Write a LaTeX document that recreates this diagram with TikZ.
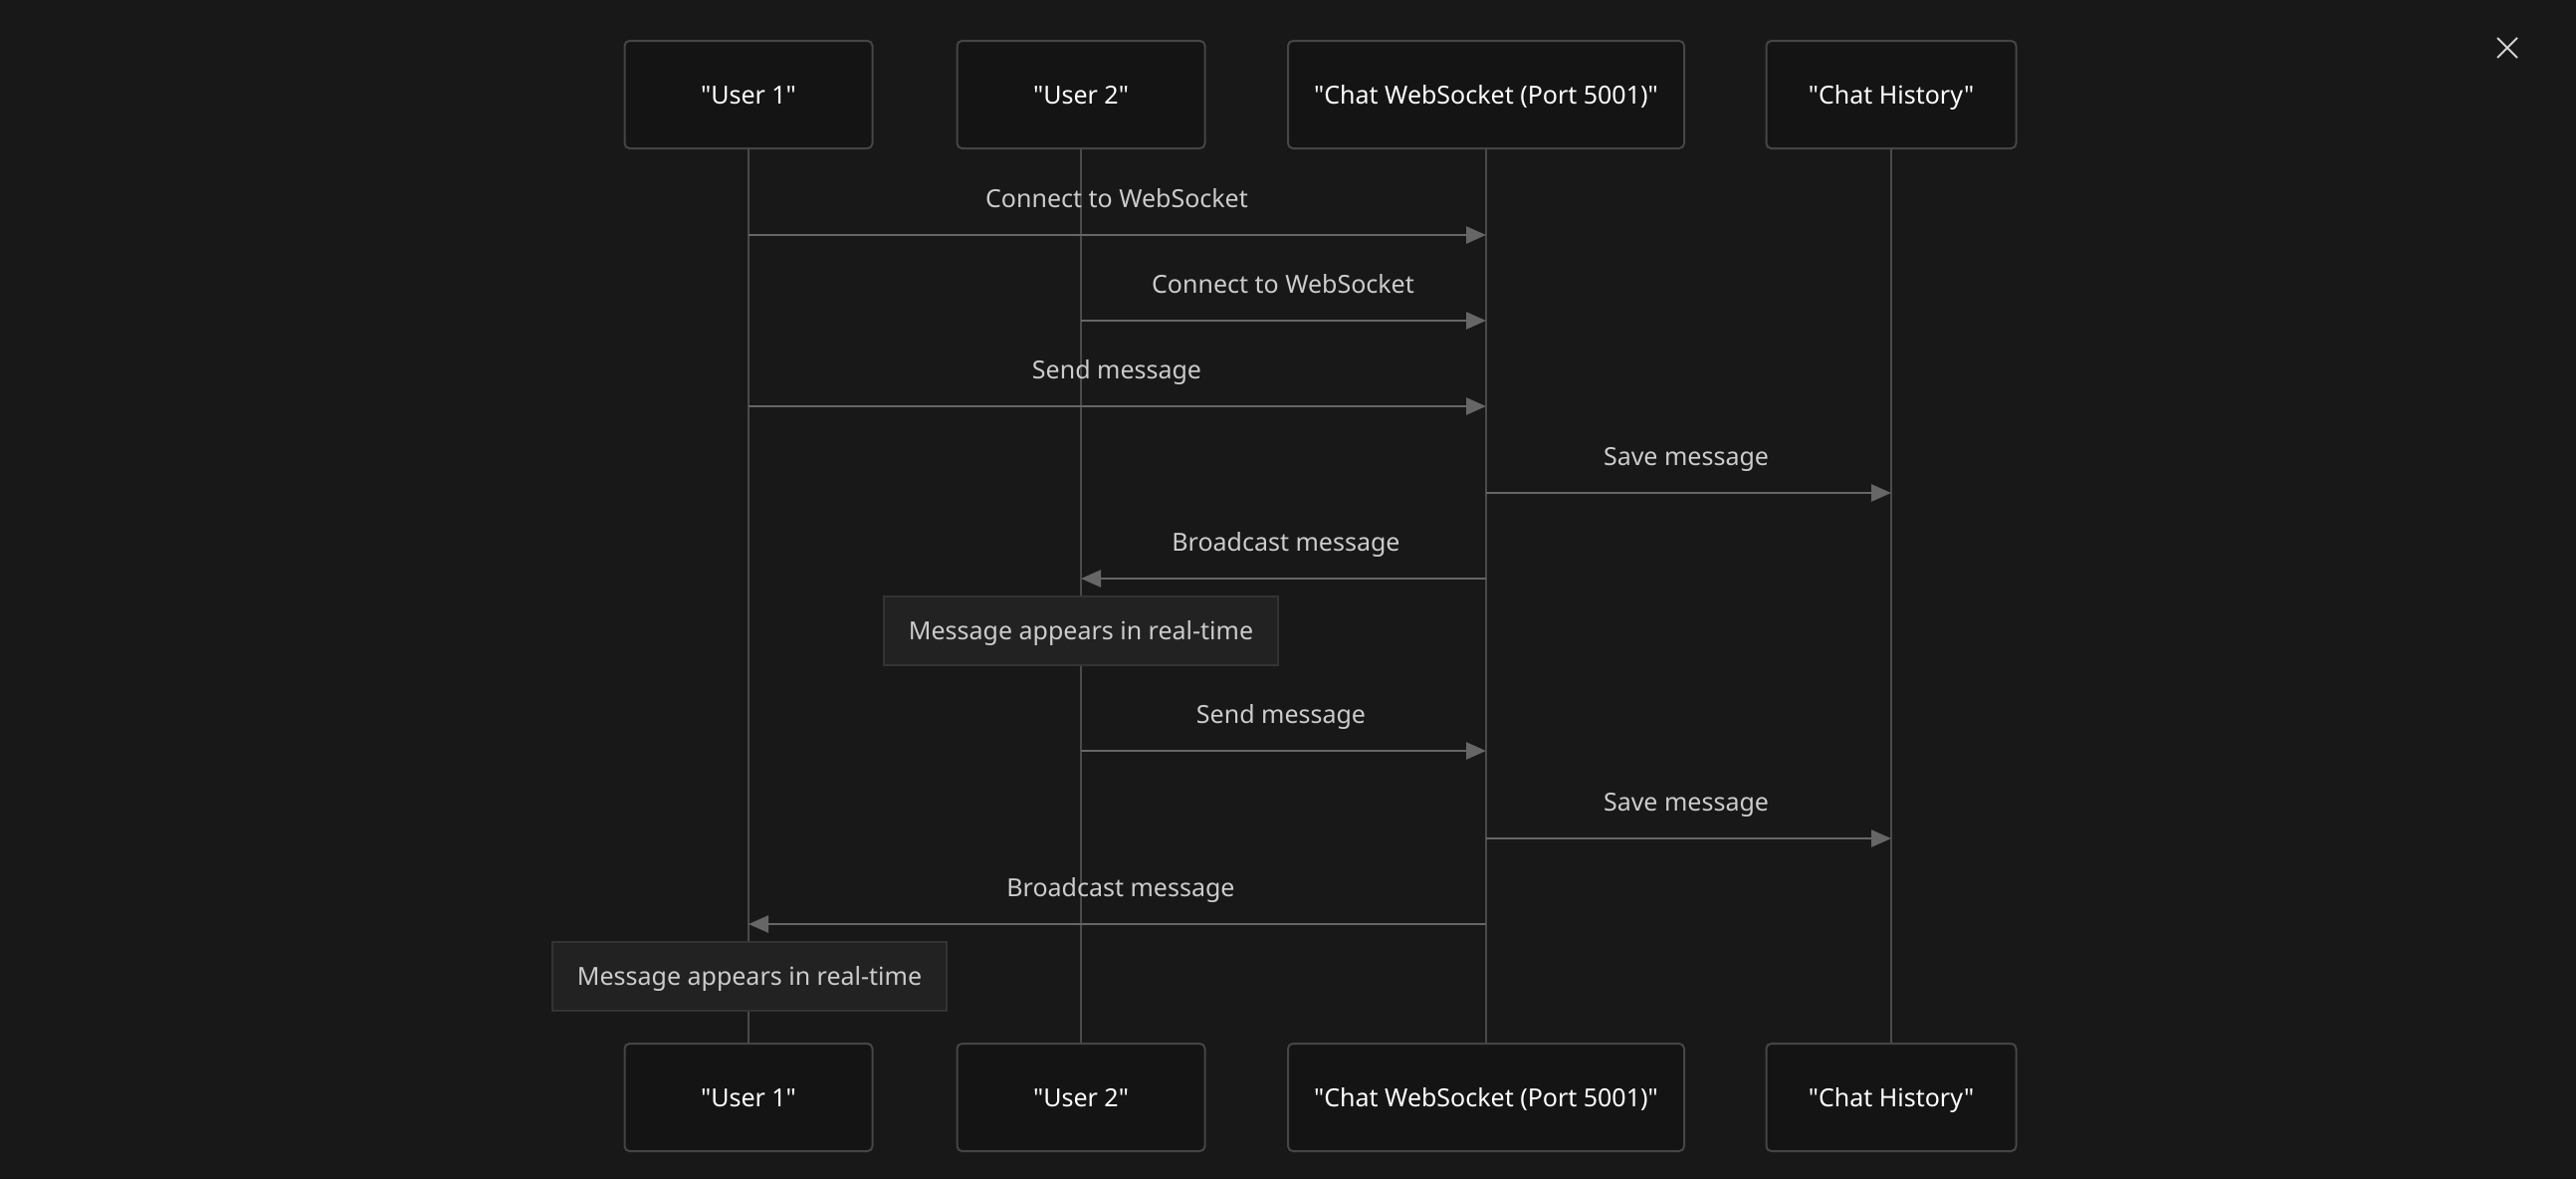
\documentclass[tikz,border=0pt]{standalone}
\usepackage{fontspec}
\newfontfamily\uifont{Noto Sans}
\usetikzlibrary{arrows.meta}
\definecolor{bg}{HTML}{181818}
\definecolor{boxfill}{HTML}{141414}
\definecolor{boxline}{HTML}{454545}
\definecolor{notefill}{HTML}{222222}
\definecolor{noteline}{HTML}{333333}
\definecolor{lifeline}{HTML}{4A4A4A}
\definecolor{msgline}{HTML}{666666}
\definecolor{lbl}{HTML}{CCCCCC}
\tikzset{
  actor/.style={draw=boxline, fill=boxfill, rounded corners=5pt, line width=2pt,
    minimum height=108pt, text=white, font=\uifont\fontsize{25}{30}\selectfont,
    inner sep=0pt, text height=19pt, text depth=0pt},
  life/.style={draw=lifeline, line width=2.5pt},
  msg/.style={draw=msgline, line width=2.5pt, -{Triangle[length=20pt,width=17pt]}},
  mlabel/.style={text=lbl, font=\uifont\fontsize{25}{30}\selectfont, inner sep=0pt, anchor=base},
  note/.style={draw=noteline, fill=notefill, line width=2pt, minimum width=396pt,
    minimum height=69pt, text=lbl, font=\uifont\fontsize{25}{30}\selectfont,
    inner sep=0pt, text height=19pt, text depth=0pt},
}
\begin{document}
\begin{tikzpicture}[x=1pt,y=-1pt]
\fill[bg] (0,0) rectangle (2588,1184);
\useasboundingbox (0,0) rectangle (2588,1184);
% top actors
\node[actor, minimum width=249pt] (u1t) at (752,95) {"User 1"};
\node[actor, minimum width=249pt] (u2t) at (1086,95) {"User 2"};
\node[actor, minimum width=398pt] (wst) at (1493,95) {"Chat WebSocket (Port 5001)"};
\node[actor, minimum width=251pt] (cht) at (1900,95) {"Chat History"};
% bottom actors
\node[actor, minimum width=249pt] (u1b) at (752,1102) {"User 1"};
\node[actor, minimum width=249pt] (u2b) at (1086,1102) {"User 2"};
\node[actor, minimum width=398pt] (wsb) at (1493,1102) {"Chat WebSocket (Port 5001)"};
\node[actor, minimum width=251pt] (chb) at (1900,1102) {"Chat History"};
% lifelines
\draw[life] (u1t.south) -- (u1b.north);
\draw[life] (u2t.south) -- (u2b.north);
\draw[life] (wst.south) -- (wsb.north);
\draw[life] (cht.south) -- (chb.north);
% message anchor points
\foreach \n/\y in {1/236,2/322,3/408,4/495,5/581,6/754,7/842,8/928}{
  \coordinate (a\n) at (752,\y);
  \coordinate (b\n) at (1086,\y);
  \coordinate (c\n) at (1493,\y);
  \coordinate (d\n) at (1900,\y);
}
% messages
\draw[msg] (a1) -- (c1);
\node[mlabel] (l1) at (1122,208) {Connect to WebSocket};
\draw[msg] (b2) -- (c2);
\node[mlabel] (l2) at (1289,294) {Connect to WebSocket};
\draw[msg] (a3) -- (c3);
\node[mlabel] (l3) at (1122,380) {Send message};
\draw[msg] (c4) -- (d4);
\node[mlabel] (l4) at (1694,467) {Save message};
\draw[msg] (c5) -- (b5);
\node[mlabel] (l5) at (1292,553) {Broadcast message};
\node[note] (n1) at (1086,633) {Message appears in real-time};
\draw[msg] (b6) -- (c6);
\node[mlabel] (l6) at (1287,726) {Send message};
\draw[msg] (c7) -- (d7);
\node[mlabel] (l7) at (1694,814) {Save message};
\draw[msg] (c8) -- (a8);
\node[mlabel] (l8) at (1126,900) {Broadcast message};
\node[note] (n2) at (753,980) {Message appears in real-time};
% close icon
\coordinate (x1) at (2509,38);
\coordinate (x2) at (2529,58);
\coordinate (x3) at (2529,38);
\coordinate (x4) at (2509,58);
\draw[color=lbl!90, line width=2pt] (x1) -- (x2) (x3) -- (x4);
\end{tikzpicture}
\end{document}
